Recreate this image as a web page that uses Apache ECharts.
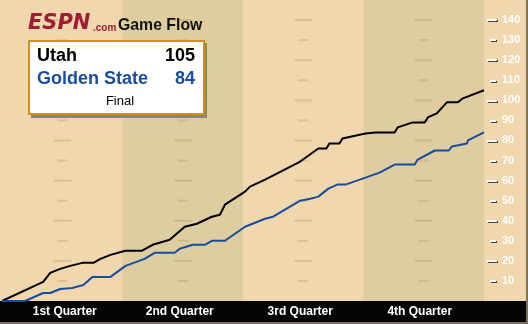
<!DOCTYPE html>
<html><head><meta charset="utf-8">
<script src="https://cdn.jsdelivr.net/npm/echarts@6/dist/echarts.min.js"></script>
<style>html,body{margin:0;padding:0;background:#F0D7AD}#c{width:528px;height:324px}</style>
</head><body><div id="c"></div>
<script>
// ---- data ----
const quarterLabels = ['1st Quarter', '2nd Quarter', '3rd Quarter', '4th Quarter'];
const quarterLabelPos = [6.25, 17.7, 29.7, 41.6];
const quarterBounds = [0, 12, 24, 36, 48];
const dashCenters = [6, 18, 30, 42];
const yLabelValues = [10, 20, 30, 40, 50, 60, 70, 80, 90, 100, 110, 120, 130, 140];
const longTickValues = [20, 40, 60, 80, 100, 120, 140];
const shortTickValues = [10, 30, 50, 70, 90, 110, 130];
const teams = ['Utah', 'Golden State'];
const finalScores = [105, 84];
const utahFlow = [[0,0],[4.1,9.5],[4.8,14],[5.8,16],[6.8,17.5],[8.0,19],[9.1,19],[9.8,21],[10.8,23],[12.3,25],[13.9,25],[15.0,28],[16.7,30.5],[18.2,37],[19.4,38.5],[20.9,42],[21.7,43],[22.2,48],[24.2,54.5],[24.7,57],[26.2,60.5],[29.7,69.5],[31.5,76],[32.3,76],[32.6,78.5],[33.6,78.5],[33.9,81],[36.2,83.5],[37.2,84],[39.1,84],[39.4,86.5],[40.9,89],[42.1,89],[42.4,91.5],[43.3,93.5],[44.3,99],[45.4,99],[45.9,101],[48,105]];
const gswFlow = [[0,0],[2.3,0],[4.1,4],[4.8,4],[5.8,6],[7.0,6.5],[8.1,8],[9.0,12],[10.8,12],[12.3,17.5],[14.2,21],[15.2,24],[17.2,24],[17.7,26],[19.0,28],[20.2,28],[20.9,30],[22.2,30],[24.2,37],[26.2,41],[27.0,42],[29.7,50],[30.7,51],[31.5,52],[32.5,56],[33.4,58],[34.2,58],[36.2,61.5],[37.6,64],[39.1,68],[41.1,68],[41.4,70.5],[43.1,75],[44.5,75],[44.8,77],[46.3,78.5],[46.4,80],[48,84]];

// ---- build ----
const LIGHT = '#F0D7AD', DARK = '#DDCDA0';
const FONT = 'Liberation Sans, Arial, sans-serif';
const bands = [];
for (let i = 0; i < 4; i++) {
  bands.push([{xAxis: quarterBounds[i], itemStyle: {color: i % 2 ? DARK : LIGHT}}, {xAxis: quarterBounds[i + 1]}]);
}
const dashData = [];
dashCenters.forEach(c => yLabelValues.forEach(v => dashData.push({value: [c, v], symbolSize: v % 20 === 0 ? [18, 2] : [10, 2]})));

const tickStyle = {color: '#fff', width: 2, shadowColor: '#4a4030', shadowOffsetX: 1, shadowOffsetY: 1, shadowBlur: 0};
function tickAxis(values, offset, length) {
  return {type: 'value', min: 0, max: 150, position: 'right', offset: offset, splitLine: {show: false}, axisLine: {show: false},
    axisTick: {show: true, customValues: values, length: length, lineStyle: tickStyle}, axisLabel: {show: false}};
}
const chart = echarts.init(document.getElementById('c'), null, {renderer: 'canvas'});
chart.setOption({
  animation: false,
  backgroundColor: LIGHT,
  grid: {left: 2, right: 44, top: 0, bottom: 23},
  xAxis: {type: 'value', min: 0, max: 48, splitLine: {show: false}, axisLine: {show: false}, axisTick: {show: false},
    axisLabel: {customValues: quarterLabelPos, fontSize: 12, margin: 5, color: '#fff', fontWeight: 'bold', fontFamily: FONT,
      formatter: v => { const i = quarterLabelPos.findIndex(p => Math.abs(p - v) < 1e-6); return i >= 0 ? quarterLabels[i] : ''; }}},
  yAxis: [
    {type: 'value', min: 0, max: 150, position: 'right', offset: 6, splitLine: {show: false}, axisLine: {show: false}, axisTick: {show: false},
      axisLabel: {customValues: yLabelValues, fontSize: 11, margin: 12, align: 'left', color: '#fff', fontWeight: 'bold', fontFamily: FONT,
        textShadowColor: '#4a4030', textShadowOffsetX: 1, textShadowOffsetY: 1, textShadowBlur: 0}},
    tickAxis(shortTickValues, 6, 6),
    tickAxis(longTickValues, 3, 10)
  ],
  series: [
    {type: 'line', data: [], markArea: {silent: true, data: bands}, z: 0},
    {type: 'scatter', data: dashData, symbol: 'rect', itemStyle: {color: 'rgba(170,125,70,0.32)'}, silent: true, z: 1},
    {name: teams[0], type: 'line', data: utahFlow, showSymbol: false, lineStyle: {color: '#000', width: 2}, z: 3},
    {name: teams[1], type: 'line', data: gswFlow, showSymbol: false, lineStyle: {color: '#1A4C9E', width: 2}, z: 3}
  ],
  graphic: [
    {type: 'rect', shape: {x: 0, y: 301, width: 526, height: 21}, style: {fill: '#050505'}, z: -1},
    {type: 'rect', shape: {x: 526, y: 0, width: 2, height: 324}, style: {fill: '#7F705A'}, z: 10},
    {type: 'rect', shape: {x: 0, y: 322, width: 528, height: 2}, style: {fill: '#7F705A'}, z: 10},
    // logo
    {type: 'text', x: 28, y: 13, scaleX: 1.0, style: {text: 'ESPN', fill: '#9E1C34', font: 'oblique bold 21px DejaVu Sans, sans-serif'}, z: 20},
    {type: 'text', x: 93, y: 23, style: {text: '.com', fill: '#9E1C34', font: 'bold 10px ' + FONT}, z: 20},
    {type: 'text', x: 118, y: 17, scaleX: 0.93, style: {text: 'Game Flow', fill: '#111', font: 'bold 17px ' + FONT}, z: 20},
    // score box
    {type: 'rect', shape: {x: 31, y: 43, width: 176, height: 75}, style: {fill: '#8a8478'}, z: 20},
    {type: 'rect', shape: {x: 29, y: 41, width: 175, height: 73}, style: {fill: '#fff', stroke: '#D4900C', lineWidth: 2}, z: 21},
    {type: 'text', x: 37, y: 47, style: {text: teams[0], fill: '#000', font: 'bold 18px ' + FONT}, z: 22},
    {type: 'text', x: 195, y: 47, style: {text: String(finalScores[0]), fill: '#000', align: 'right', font: 'bold 18px ' + FONT}, z: 22},
    {type: 'text', x: 37, y: 70, style: {text: teams[1], fill: '#1A4C9E', font: 'bold 18px ' + FONT}, z: 22},
    {type: 'text', x: 195, y: 70, style: {text: String(finalScores[1]), fill: '#1A4C9E', align: 'right', font: 'bold 18px ' + FONT}, z: 22},
    {type: 'text', x: 120, y: 95, style: {text: 'Final', fill: '#000', align: 'center', font: '13px ' + FONT}, z: 22}
  ]
});
</script></body></html>
